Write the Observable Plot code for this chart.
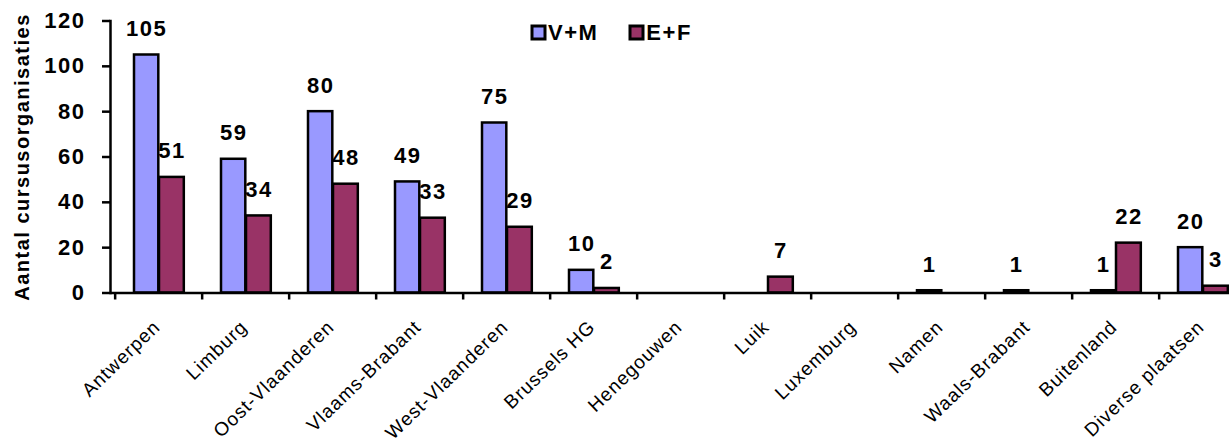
<!DOCTYPE html>
<html><head><meta charset="utf-8">
<script src="https://cdn.jsdelivr.net/npm/d3@7"></script>
<script src="https://cdn.jsdelivr.net/npm/@observablehq/plot@0.6"></script>
<style>
html,body{margin:0;padding:0;background:#fff;overflow:hidden;}
#wrap{position:relative;width:1229px;height:443px;overflow:hidden;}
#legend{position:absolute;left:532px;top:16px;}
#legend span{font-family:"Liberation Sans",Arial,sans-serif;font-weight:bold;font-size:22px;letter-spacing:1.5px;color:#000;margin-right:32px;}
#legend span svg{margin-right:3px;overflow:visible;}
#legend span svg rect{stroke:#000;stroke-width:3px;}
#chart g[font-weight="bold"] text{letter-spacing:1.5px;}
#chart g[font-size="19"] text{letter-spacing:1px;}
</style></head><body>
<div id="wrap"><div id="chart"></div><div id="legend"></div></div>
<script>
const categories = ["Antwerpen","Limburg","Oost-Vlaanderen","Vlaams-Brabant","West-Vlaanderen","Brussels HG","Henegouwen","Luik","Luxemburg","Namen","Waals-Brabant","Buitenland","Diverse plaatsen"];
const series = ["V+M","E+F"];
const seriesColors = ["#9999FF","#993366"];
const valuesVM = [105,59,80,49,75,10,null,null,null,1,1,1,20];
const valuesEF = [51,34,48,33,29,2,null,7,null,null,null,22,3];
const yTicks = [0,20,40,60,80,100,120];
const yLabel = "Aantal cursusorganisaties";

const rowsVM = categories.map((c,i)=>({category:c, series:"V+M", value:valuesVM[i]})).filter(d=>d.value!=null);
const rowsEF = categories.map((c,i)=>({category:c, series:"E+F", value:valuesEF[i]})).filter(d=>d.value!=null);

const W = 1250, ML = 110, MR = 0;
const bw = (W-ML-MR)/categories.length;
const font = '"Liberation Sans", Arial, sans-serif';

const plot = Plot.plot({
  width: W, height: 443,
  marginLeft: ML, marginRight: MR, marginTop: 20.5, marginBottom: 150.5,
  style: {fontFamily: font, maxWidth: "none", overflow: "visible", background: "#fff", color: "#000"},
  x: {domain: categories, padding: 0, label: null},
  y: {domain: [0,120], label: null},
  color: {domain: series, range: seriesColors},
  marks: [
    Plot.barY(rowsVM, {x:"category", y:"value", fill:"series", stroke:"#000", strokeWidth:2.5, insetLeft:19, insetRight:bw-44}),
    Plot.barY(rowsEF, {x:"category", y:"value", fill:"series", stroke:"#000", strokeWidth:2.5, insetLeft:44, insetRight:bw-69.5}),
    Plot.ruleY([0], {stroke:"#000", strokeWidth:2.5}),
    Plot.frame({anchor:"left", stroke:"#000", strokeWidth:2.5}),
    Plot.axisY({ticks:yTicks, tickSize:8, tickPadding:17, fontSize:22, fontWeight:"bold", label:null, strokeWidth:2.5}),
    Plot.axisX({tickSize:7, tickFormat:()=>"", dx:-bw/2, strokeWidth:2.5, label:null}),
    Plot.axisX({tickSize:0, tickRotate:-44, tickPadding:31, dx:-2, fontSize:19, label:null}),
    Plot.text(rowsVM, {x:"category", y:"value", text:"value", dx:31.5-bw/2, dy:-19, lineAnchor:"bottom", fontSize:22, fontWeight:"bold", fill:"#000"}),
    Plot.text(rowsEF, {x:"category", y:"value", text:"value", dx:56.75-bw/2, dy:-19, lineAnchor:"bottom", fontSize:22, fontWeight:"bold", fill:"#000"}),
    Plot.text([yLabel], {frameAnchor:"left", textAnchor:"middle", rotate:-90, dx:-88, fontSize:20, fontWeight:"bold", fill:"#000"})
  ]
});
document.getElementById("chart").appendChild(plot);
const leg = Plot.legend({color:{domain:series, range:seriesColors}, swatchSize:13});
document.getElementById("legend").appendChild(leg);
</script></body></html>
